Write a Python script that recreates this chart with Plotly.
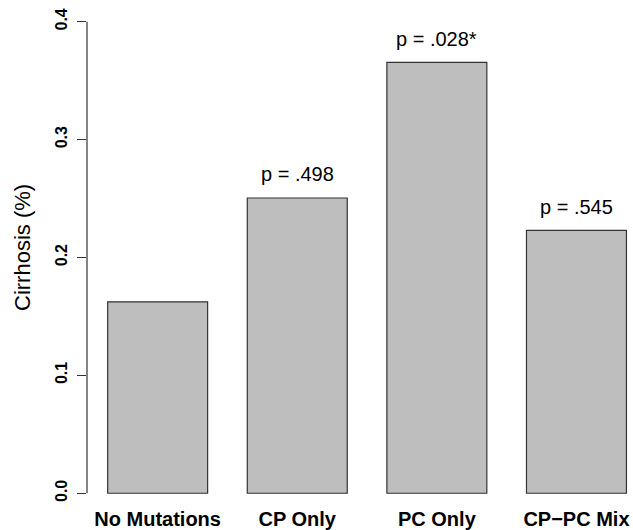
import plotly.graph_objects as go

categories = ["No Mutations", "CP Only", "PC Only", "CP\u2212PC Mix"]
cirrhosis = [0.1624, 0.2505, 0.3656, 0.223]
p_labels = ["", "p = .498", "p = .028*", "p = .545"]
y_ticks = [0.0, 0.1, 0.2, 0.3, 0.4]
y_tick_text = ["0.0", "0.1", "0.2", "0.3", "0.4"]

W, H = 633, 530
fig = go.Figure()
fig.add_trace(go.Bar(
    x=categories, y=cirrhosis, width=0.716,
    marker=dict(color="#bebebe", line=dict(color="#333333", width=1.2)),
    hoverinfo="skip",
))

for c, v, t in zip(categories, cirrhosis, p_labels):
    if t:
        fig.add_annotation(x=c, y=v + 0.02, text=t, showarrow=False,
                           xanchor="center", yanchor="middle",
                           font=dict(family="Liberation Sans", size=20, color="black"))

fig.add_annotation(xref="paper", yref="paper", x=0, y=0.5, text="Cirrhosis (%)",
                   textangle=-90, showarrow=False, xanchor="center", yanchor="middle",
                   xshift=-65, yshift=6,
                   font=dict(family="Liberation Sans", size=22, color="black"))

# axis line spanning only the tick range (R-style)
fig.add_shape(type="line", xref="paper", yref="y", x0=0, x1=0, y0=0, y1=0.4,
              line=dict(color="#333333", width=1.2))

fig.update_layout(
    width=W, height=H,
    margin=dict(l=87, r=0, t=3, b=25),
    paper_bgcolor="white", plot_bgcolor="white",
    showlegend=False,
    xaxis=dict(range=[-0.506, 3.405], showline=False, showgrid=False, zeroline=False,
               ticks="", automargin=False,
               tickfont=dict(family="Liberation Sans", size=20, color="black", weight="bold")),
    yaxis=dict(range=[-0.00995, 0.4159], tickvals=y_ticks, ticktext=y_tick_text,
               showline=False, showgrid=False, zeroline=False,
               ticks="outside", ticklen=9, tickwidth=1.2, tickcolor="#333333",
               tickangle=-90, automargin=False, ticklabelstandoff=4,
               tickfont=dict(family="Liberation Sans", size=16, color="black", weight="bold")),
)

fig.write_html("out.html", config={"displayModeBar": False},
               post_script="document.body.style.margin='0';")
